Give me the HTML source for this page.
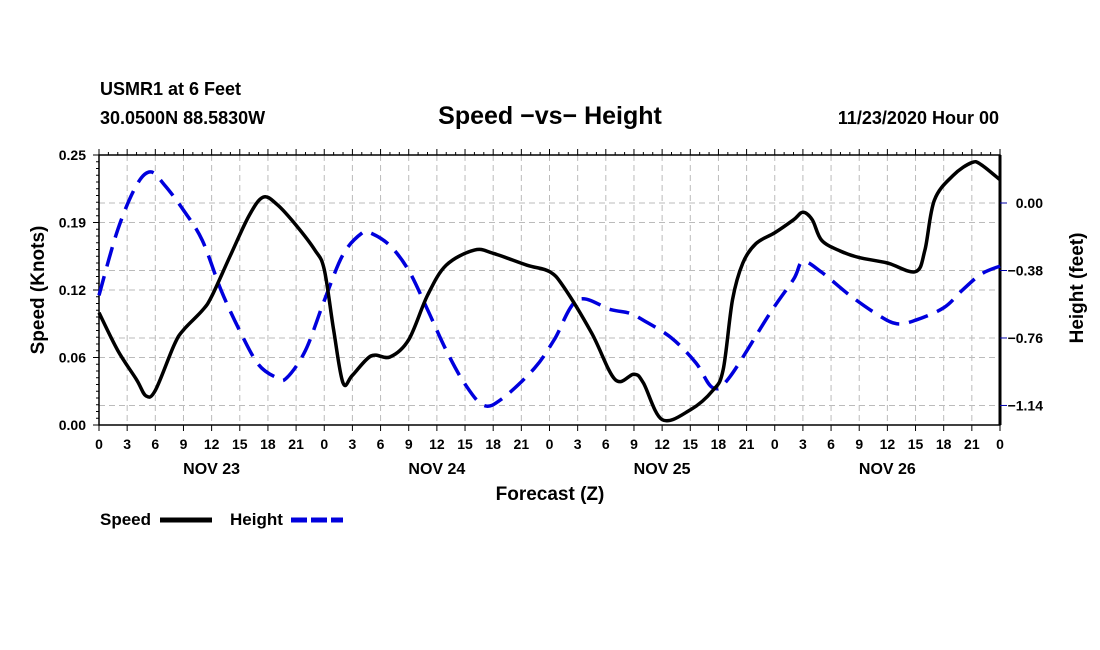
<!DOCTYPE html>
<html><head><meta charset="utf-8"><style>
html,body{margin:0;padding:0;background:#fff;}
svg{display:block;font-family:"Liberation Sans",sans-serif;font-weight:bold;}
</style></head><body>
<svg id="c" width="1100" height="650" viewBox="0 0 1100 650">
<text x="100" y="95" font-size="18">USMR1 at 6 Feet</text>
<text x="100" y="124" font-size="18">30.0500N 88.5830W</text>
<text x="550" y="124" font-size="25" text-anchor="middle">Speed −vs− Height</text>
<text x="999" y="124" font-size="18" text-anchor="end">11/23/2020 Hour 00</text>
<g id="grid"></g>
<g id="axes"></g>
<g id="series"></g>
<text x="550" y="500" font-size="19" text-anchor="middle">Forecast (Z)</text>
<text transform="translate(44,290) rotate(-90)" font-size="19" text-anchor="middle">Speed (Knots)</text>
<text transform="translate(1083,288) rotate(-90)" font-size="19" text-anchor="middle">Height (feet)</text>
<g><text x="100" y="525" font-size="17">Speed</text><line x1="160" y1="520" x2="212" y2="520" stroke="#000" stroke-width="5"/></g>
<g><text x="230" y="525" font-size="17">Height</text><line x1="291" y1="520" x2="343" y2="520" stroke="#0000dd" stroke-width="5" stroke-dasharray="16,4"/></g>
</svg>
<script>
const speedHours=[0,2,4,5,6,8,9,11,12,14,16,17.5,19,21,23,24,25,26,27,29,31,33,35,37,40,42,45.6,48,49.5,52.5,55,57,58,60,63,65.4,66.5,67.5,68.6,70,72,74,75,76,77,79,81,84,87,88,89,91,93,94,96];
const speedValues=[0.104,0.069,0.042,0.027,0.032,0.074,0.088,0.106,0.119,0.157,0.194,0.211,0.204,0.185,0.162,0.144,0.088,0.039,0.046,0.064,0.063,0.079,0.12,0.148,0.162,0.159,0.148,0.142,0.128,0.085,0.042,0.047,0.039,0.005,0.014,0.032,0.051,0.116,0.150,0.168,0.178,0.19,0.197,0.19,0.171,0.161,0.155,0.150,0.142,0.162,0.208,0.231,0.243,0.241,0.227];
const heightHours=[0,2,4,5.5,7,9,11,13,15,17,19,20,22,24,26,28,29,31,33,35,37,39,41,43,46.4,48.5,51,54.5,56.5,58,61,63.6,65.4,67.2,71.5,74,75,77,80,83,85,87,90,92,94,96];
const heightValues=[-0.52,-0.15,0.10,0.175,0.10,-0.04,-0.21,-0.49,-0.72,-0.91,-0.985,-0.985,-0.83,-0.55,-0.29,-0.17,-0.17,-0.24,-0.38,-0.60,-0.83,-1.02,-1.14,-1.10,-0.93,-0.77,-0.546,-0.60,-0.62,-0.66,-0.76,-0.90,-1.04,-0.98,-0.62,-0.43,-0.33,-0.39,-0.52,-0.63,-0.68,-0.66,-0.59,-0.49,-0.40,-0.355];
const leftTicks=[0,0.0625,0.125,0.1875,0.25];
const leftTickLabels=["0.00","0.06","0.12","0.19","0.25"];
const rightTicks=[0,-0.38,-0.76,-1.14];
const rightTickLabels=["0.00","−0.38","−0.76","−1.14"];
const hourLabels=["0","3","6","9","12","15","18","21"];
const dayLabels=["NOV 23","NOV 24","NOV 25","NOV 26"];
const X0=99,X1=1000,Y0=155,Y1=425;
const xs=h=>X0+(X1-X0)*h/96;
const yL=v=>Y1-(Y1-Y0)*v/0.25;
const yR=v=>203-v*177.6;
const NS="http://www.w3.org/2000/svg";
function mk(p,t,a){const e=document.createElementNS(NS,t);for(const k in a)e.setAttribute(k,a[k]);p.appendChild(e);return e;}
const grid=document.getElementById('grid'),axes=document.getElementById('axes'),ser=document.getElementById('series');
for(let h=3;h<96;h+=3){const l=mk(grid,'line',{x1:xs(h),x2:xs(h),y1:Y0,y2:Y1,stroke:'#bbb','stroke-dasharray':'6,4'});

}
leftTicks.slice(1,4).forEach(v=>{const l=mk(grid,'line',{x1:X0,x2:X1,y1:yL(v),y2:yL(v),stroke:'#bbb','stroke-dasharray':'6,4'});

});
rightTicks.forEach(v=>{const l=mk(grid,'line',{x1:X0,x2:X1,y1:yR(v),y2:yR(v),stroke:'#bbb','stroke-dasharray':'6,4'});

});
mk(axes,'rect',{x:X0,y:Y0,width:X1-X0,height:Y1-Y0,fill:'none',stroke:'#000','stroke-width':1.5});
mk(axes,'line',{x1:X1,x2:X1,y1:Y0,y2:Y1,stroke:'#000','stroke-width':3});
for(let i=0;i<=40;i++){const v=i*0.25/40,y=yL(v),len=(i%10==0)?6:3;mk(axes,'line',{x1:X0-len,x2:X0,y1:y,y2:y,stroke:'#000'});}
leftTicks.forEach((v,i)=>{const t=mk(axes,'text',{x:X0-13,y:yL(v)+5,'font-size':14,'text-anchor':'end'});t.textContent=leftTickLabels[i];

});
rightTicks.forEach((v,i)=>{mk(axes,'line',{x1:X1,x2:X1+7,y1:yR(v),y2:yR(v),stroke:'#0000aa'});const t=mk(axes,'text',{x:1043,y:yR(v)+5,'font-size':14,'text-anchor':'end'});t.textContent=rightTickLabels[i];

});
for(let h=0;h<=96;h+=3){const x=xs(h);mk(axes,'line',{x1:x,x2:x,y1:Y1,y2:Y1+6,stroke:'#000'});mk(axes,'line',{x1:x,x2:x,y1:Y0-6,y2:Y0,stroke:'#000'});
const t=mk(axes,'text',{x:x,y:449,'font-size':14,'text-anchor':'middle'});t.textContent=h==96?'0':hourLabels[(h%24)/3];

}
for(let h=1;h<96;h++){if(h%3){const x=xs(h);mk(axes,'line',{x1:x,x2:x,y1:Y0-3,y2:Y0,stroke:'#000'});}}
dayLabels.forEach((d,i)=>{const t=mk(axes,'text',{x:xs(12+24*i),y:474,'font-size':16,'text-anchor':'middle'});t.textContent=d;

});
function path(hs,vs,f){const p=hs.map((h,i)=>[xs(h),f(vs[i])]);let d='M'+p[0][0]+','+p[0][1];
for(let i=0;i<p.length-1;i++){const a=p[Math.max(0,i-1)],b=p[i],c=p[i+1],e=p[Math.min(p.length-1,i+2)];
d+=` C${b[0]+(c[0]-a[0])/6},${b[1]+(c[1]-a[1])/6} ${c[0]-(e[0]-b[0])/6},${c[1]-(e[1]-b[1])/6} ${c[0]},${c[1]}`;}return d;}
const hp=mk(ser,'path',{d:path(heightHours,heightValues,yR),fill:'none',stroke:'#0000dd','stroke-width':3.5,'stroke-dasharray':'20,10'});


const sp=mk(ser,'path',{d:path(speedHours,speedValues,yL),fill:'none',stroke:'#000','stroke-width':3.5});


</script>
</body></html>
